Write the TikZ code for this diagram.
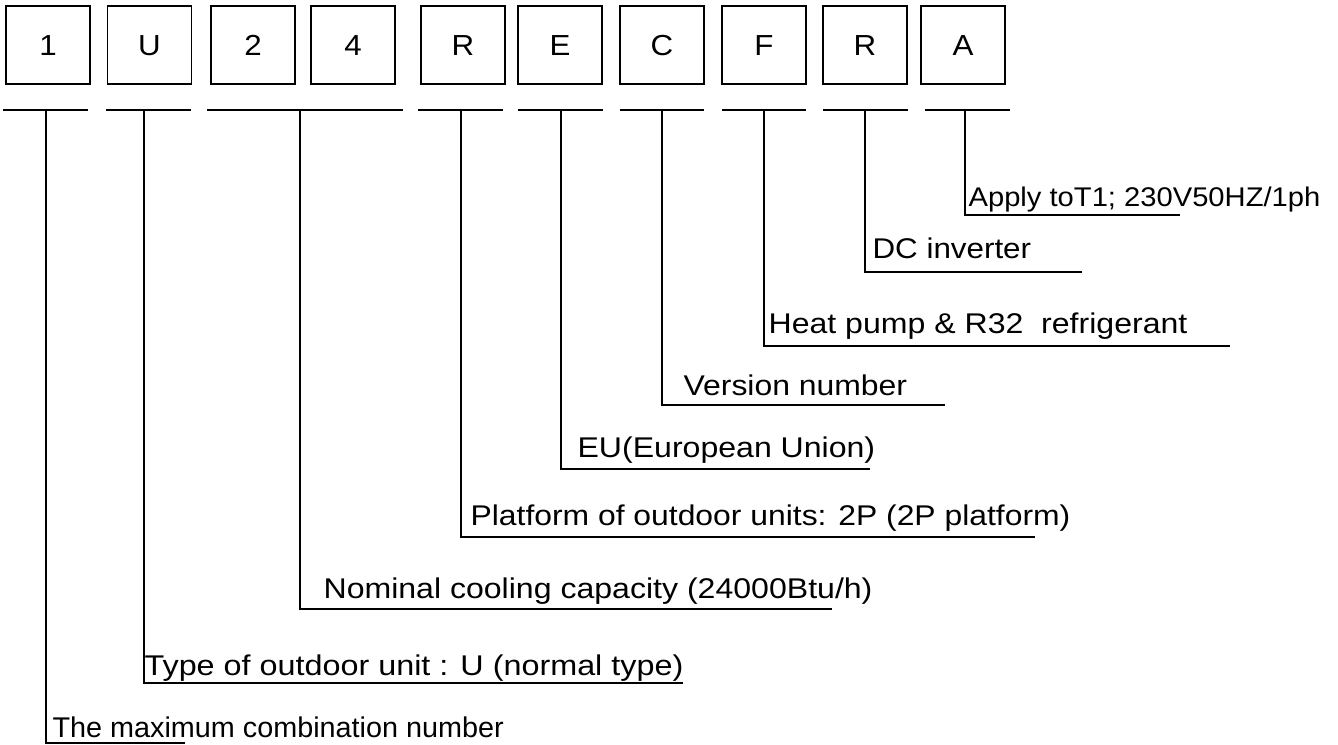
\documentclass[tikz,border=0pt]{standalone}
\usepackage{graphicx}
\usepackage{fontspec}
\setmainfont{Liberation Sans}
% text set slightly wider than the font's natural shape
\newcommand{\widetext}[2]{\scalebox{#1}[1]{#2}}
\begin{document}
\begin{tikzpicture}[x=1pt,y=-1pt,line width=1.2pt,
  charbox/.style={draw,minimum width=84pt,minimum height=78pt,inner sep=0pt,
    text height=20.8pt,text depth=0pt,
    font=\fontsize{29}{29}\selectfont},
  lbl/.style={anchor=base west,inner sep=0pt,font=\fontsize{28.5}{28.5}\selectfont},
  lblsmall/.style={anchor=base west,inner sep=0pt,font=\fontsize{27}{27}\selectfont}]
\useasboundingbox (0,0) rectangle (1338,744);

% code characters
\node[charbox] (b1)  at (48,45)  {\widetext{1.08}{1}};
\node[charbox] (b2)  at (149.5,45) {\widetext{1.08}{U}};
\node[charbox] (b3)  at (253,45) {\widetext{1.08}{2}};
\node[charbox] (b4)  at (353,45) {\widetext{1.08}{4}};
\node[charbox] (b5)  at (463,45) {\widetext{1.08}{R}};
\node[charbox] (b6)  at (560,45) {\widetext{1.08}{E}};
\node[charbox] (b7)  at (662,45) {\widetext{1.08}{C}};
\node[charbox] (b8)  at (764,45) {\widetext{1.08}{F}};
\node[charbox] (b9)  at (865,45) {\widetext{1.08}{R}};
\node[charbox] (b10) at (963,45) {\widetext{1.08}{A}};

% underline segments
\coordinate (u1a) at (3,110);   \coordinate (u1b) at (88,110);
\coordinate (u2a) at (106,110); \coordinate (u2b) at (191,110);
\coordinate (u3a) at (207,110); \coordinate (u3b) at (403,110);
\coordinate (u5a) at (418,110); \coordinate (u5b) at (503,110);
\coordinate (u6a) at (518,110); \coordinate (u6b) at (603,110);
\coordinate (u7a) at (620,110); \coordinate (u7b) at (704,110);
\coordinate (u8a) at (722,110); \coordinate (u8b) at (806,110);
\coordinate (u9a) at (823,110); \coordinate (u9b) at (908,110);
\coordinate (u10a) at (925,110); \coordinate (u10b) at (1010,110);
\foreach \s in {1,2,3,5,6,7,8,9,10}
  \draw (u\s a) -- (u\s b);

% tap points on the underlines
\coordinate (t1) at (46,110);
\coordinate (t2) at (144,110);
\coordinate (t3) at (300,110);
\coordinate (t5) at (461,110);
\coordinate (t6) at (561,110);
\coordinate (t7) at (662,110);
\coordinate (t8) at (764,110);
\coordinate (t9) at (865,110);
\coordinate (t10) at (965,110);

% ends of the label rules
\coordinate (e10) at (1180,215);
\coordinate (e9)  at (1082,272);
\coordinate (e8)  at (1230,346);
\coordinate (e7)  at (945,405);
\coordinate (e6)  at (870,469);
\coordinate (e5)  at (1035,537);
\coordinate (e3)  at (832,609);
\coordinate (e2)  at (683,683);
\coordinate (e1)  at (185,743);

% labels
\node[lblsmall] (l10) at (968,206) {\widetext{1.08}{Apply toT1; 230V50HZ/1ph}};
\node[lbl] (l9) at (872,258) {\widetext{1.10}{DC inverter}};
\node[lbl] (l8) at (768,333) {\widetext{1.125}{Heat pump \& R32\ \ refrigerant}};
\node[lbl] (l7) at (683,395) {\widetext{1.12}{Version number}};
\node[lbl] (l6) at (577,457) {\widetext{1.125}{EU(European Union)}};
\node[lbl] (l5) at (470,525) {\widetext{1.118}{Platform of outdoor units: 2P (2P platform)}};
\node[lbl] (l3) at (323,598) {\widetext{1.125}{Nominal cooling capacity (24000Btu/h)}};
\node[lbl] (l2) at (144,675) {\widetext{1.135}{Type of outdoor unit : U (normal type)}};
\node[lbl] (l1) at (52,737) {\widetext{1.01}{The maximum combination number}};

% leaders
\foreach \s in {10,9,8,7,6,5,3,2,1}
  \draw (t\s) |- (e\s);
\end{tikzpicture}
\end{document}
